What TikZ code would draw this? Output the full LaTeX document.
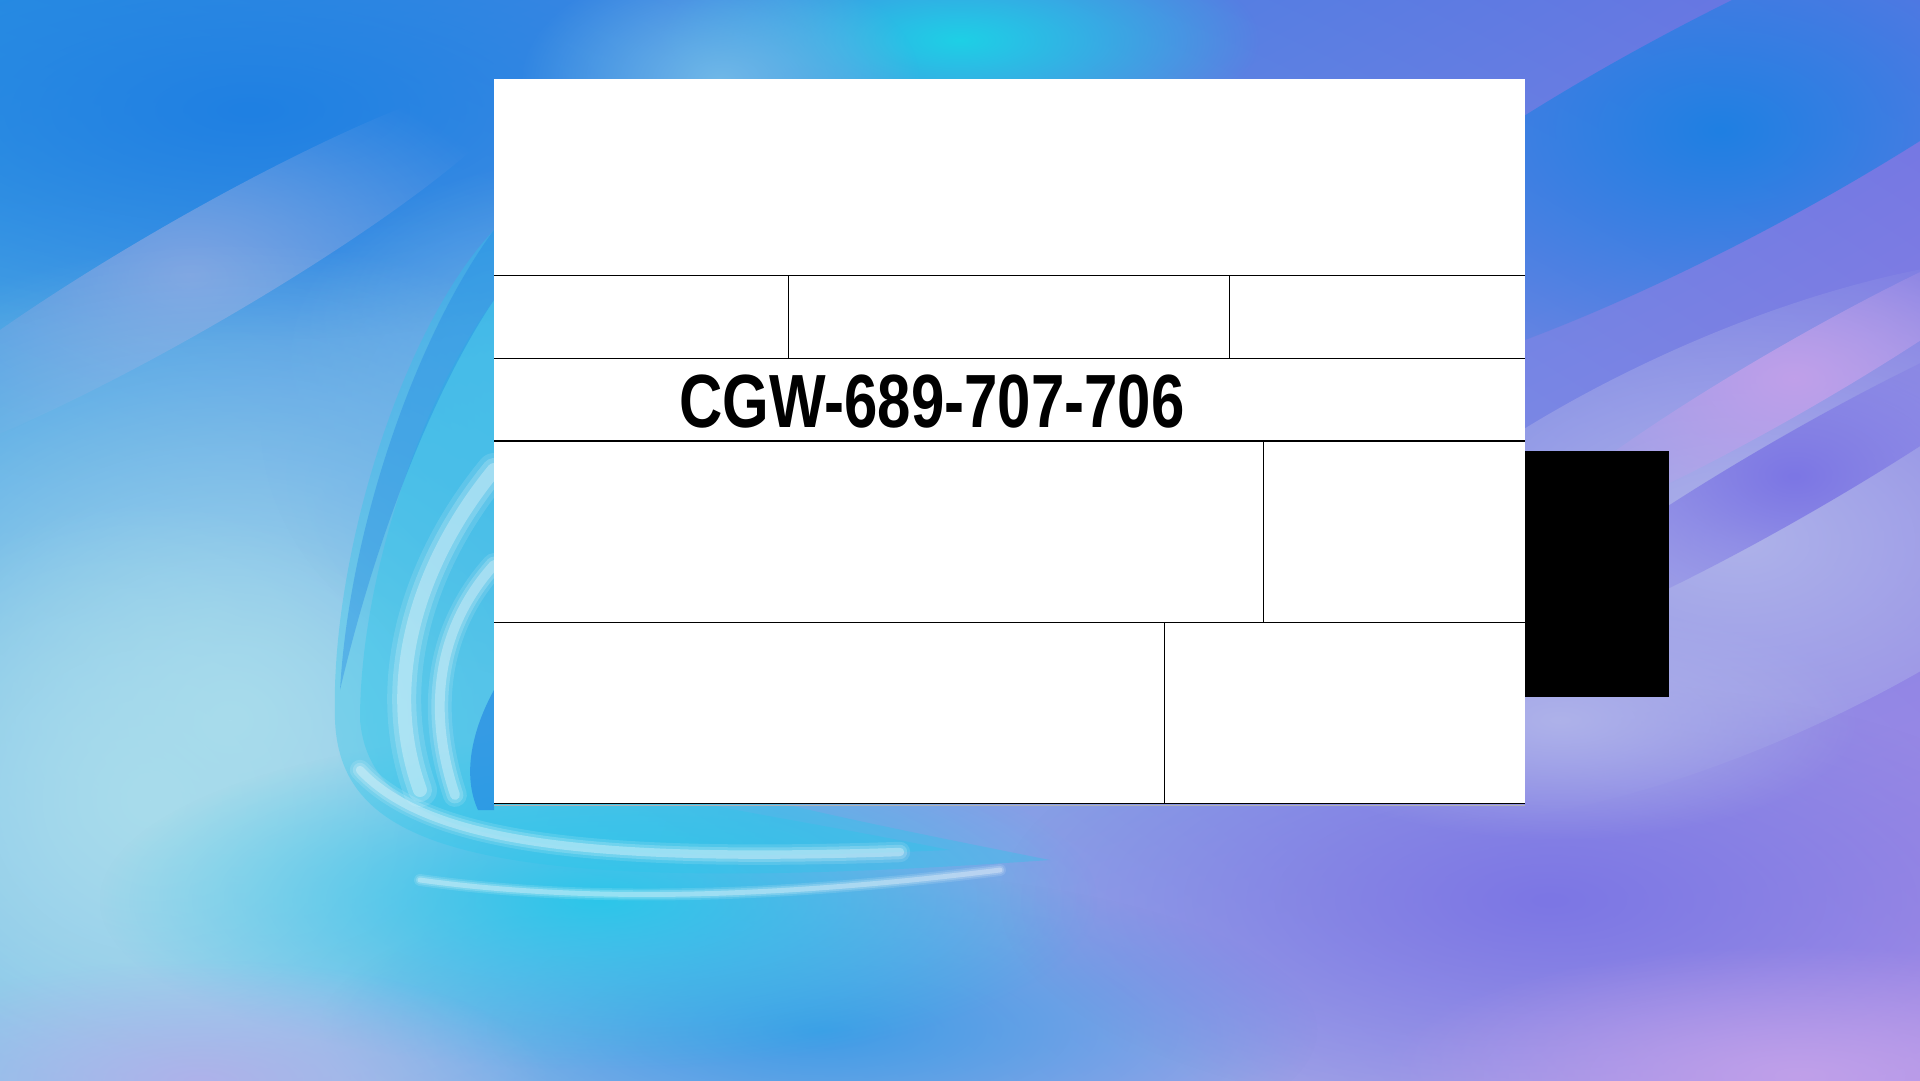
\documentclass[tikz,border=0pt]{standalone}
\usepackage{fontspec}
\newfontfamily\labelfont{Liberation Sans}
\usetikzlibrary{fadings,shadings}
\tikzfading[name=softblob, inner color=transparent!0, outer color=transparent!100]
\definecolor{bgUL}{HTML}{2A90E2}
\definecolor{bgUR}{HTML}{6E74E2}
\definecolor{bgLL}{HTML}{88C4EA}
\definecolor{bgLR}{HTML}{A890E6}
\definecolor{paleCyan}{HTML}{A8DCEC}
\definecolor{brightCyan}{HTML}{1ED0E6}
\definecolor{deepBlue}{HTML}{1F80E2}
\definecolor{lavender}{HTML}{AEB2EA}
\definecolor{violet}{HTML}{7C76E4}
\definecolor{lilac}{HTML}{C0A0EA}
\definecolor{swirlCyan}{HTML}{2CC6EA}
\definecolor{midBlue}{HTML}{3E9CE6}
\definecolor{skyBlue}{HTML}{70B8E8}
\definecolor{hazeBlue}{HTML}{7EA4E2}
\tikzset{
  blob/.style={fill=#1, path fading=softblob},
  streak/.style={draw=#1, line cap=round},
  rule/.style={draw=black, line width=1.4pt},
  panel/.style={fill=white, draw=none, inner sep=0pt, outer sep=0pt, minimum width=1031pt, minimum height=724pt, anchor=north west},
  shadowbar/.style={fill=black, draw=none, inner sep=0pt, outer sep=0pt, minimum width=169pt, minimum height=246pt, anchor=north west},
  codelabel/.style={inner sep=0pt, anchor=base west, font=\labelfont\bfseries\fontsize{75.4}{80}\selectfont}
}
\begin{document}
\begin{tikzpicture}[x=1pt,y=-1pt]
\useasboundingbox (0,0) rectangle (1920,1080);
% ---------- background ----------
\shade[upper left=bgUL, upper right=bgUR, lower left=bgLL, lower right=bgLR] (0,0) rectangle (1920,1080);
\begin{scope}
\clip (0,0) rectangle (1920,1080);
\fill[blob=deepBlue] (250,110) ellipse [x radius=600, y radius=230];
\begin{scope}[rotate around={30:(190,275)}]
\fill[blob=hazeBlue] (190,275) ellipse [x radius=380, y radius=55];
\end{scope}
\fill[blob=paleCyan] (230,720) ellipse [x radius=560, y radius=480];
\fill[blob=paleCyan] (150,800) ellipse [x radius=320, y radius=300];
\fill[blob=skyBlue] (560,420) ellipse [x radius=300, y radius=260];
\fill[blob=brightCyan] (960,40) ellipse [x radius=300, y radius=110];
\fill[blob=skyBlue] (720,80) ellipse [x radius=200, y radius=120];
\fill[blob=midBlue] (820,1030) ellipse [x radius=500, y radius=160];
\fill[blob=swirlCyan] (600,900) ellipse [x radius=500, y radius=170];
\fill[blob=lavender] (200,1080) ellipse [x radius=350, y radius=120];
\begin{scope}[rotate around={28:(1720,130)}]
\fill[blob=deepBlue] (1720,130) ellipse [x radius=520, y radius=110];
\end{scope}
\begin{scope}[rotate around={25:(1740,540)}]
\fill[blob=lavender] (1740,540) ellipse [x radius=520, y radius=200];
\end{scope}
\begin{scope}[rotate around={30:(1794,378)}]
\fill[blob=lilac] (1794,378) ellipse [x radius=300, y radius=34];
\end{scope}
\begin{scope}[rotate around={30:(1794,476)}]
\fill[blob=violet] (1794,476) ellipse [x radius=330, y radius=40];
\end{scope}
\fill[blob=violet] (1550,900) ellipse [x radius=550, y radius=220];
\fill[blob=lavender] (1560,720) ellipse [x radius=300, y radius=120];
\fill[blob=lilac] (1800,1075) ellipse [x radius=420, y radius=130];
% swirl left of the panel
\fill[swirlCyan, opacity=0.35] (494,230) .. controls (400,330) and (330,560) .. (335,720)
   .. controls (340,850) and (480,900) .. (1050,860)
   .. controls (950,840) and (850,820) .. (780,803) -- (494,803) -- cycle;
\fill[swirlCyan, opacity=0.35] (494,300) .. controls (420,400) and (360,580) .. (360,720)
   .. controls (370,830) and (500,870) .. (950,850)
   .. controls (850,830) and (760,815) .. (700,803) -- (494,803) -- cycle;
\fill[deepBlue, opacity=0.35] (494,230) .. controls (420,330) and (350,520) .. (340,690)
   .. controls (380,520) and (440,380) .. (494,300) -- cycle;
\foreach \w/\o in {34/0.12, 24/0.18, 14/0.3} {
  \draw[streak=white, line width=\w pt, opacity=\o] (494,470) .. controls (420,560) and (380,680) .. (420,790);
  \draw[streak=white, line width=0.7*\w pt, opacity=\o] (494,565) .. controls (440,625) and (425,705) .. (455,795);
  \draw[streak=white, line width=0.6*\w pt, opacity=\o] (360,770) .. controls (430,845) and (600,862) .. (900,852);
  \draw[streak=white, line width=0.35*\w pt, opacity=\o] (420,880) .. controls (600,905) and (800,895) .. (1000,870);
}
\fill[deepBlue, opacity=0.6] (494,690) .. controls (472,730) and (462,775) .. (478,810) -- (494,810) -- cycle;
\end{scope}
% ---------- black bar ----------
\node[shadowbar] (bar) at (1500,451) {};
% ---------- panel ----------
\node[panel] (panel) at (494,79) {};
\coordinate (L1) at (494,275.3); \coordinate (R1) at (1525,275.3);
\coordinate (L2) at (494,358.3); \coordinate (R2) at (1525,358.3);
\coordinate (L3) at (494,441);   \coordinate (R3) at (1525,441);
\coordinate (L4) at (494,622.3); \coordinate (R4) at (1525,622.3);
\coordinate (L5) at (494,803.3); \coordinate (R5) at (1525,803.3);
\draw[rule] (L1) -- (R1);
\draw[rule] (L2) -- (R2);
\draw[rule] (L3) -- (R3);
\draw[rule] (L4) -- (R4);
\draw[rule] (L5) -- (R5);
\draw[gray!60, line width=1pt] (494,805.5) -- (1525,805.5);
\coordinate (a1) at (788.5,275.3);  \coordinate (a2) at (788.5,358.3);
\coordinate (b1) at (1229.4,275.3); \coordinate (b2) at (1229.4,358.3);
\coordinate (c1) at (1263.5,441);   \coordinate (c2) at (1263.5,622.3);
\coordinate (d1) at (1164.5,622.3); \coordinate (d2) at (1164.5,803.3);
\draw[rule] (a1) -- (a2);
\draw[rule] (b1) -- (b2);
\draw[rule] (c1) -- (c2);
\draw[rule] (d1) -- (d2);
% ---------- label ----------
\node[codelabel] (code) at (679,427.3) {\scalebox{0.795}[1]{CGW-689-707-706}};
\end{tikzpicture}
\end{document}
